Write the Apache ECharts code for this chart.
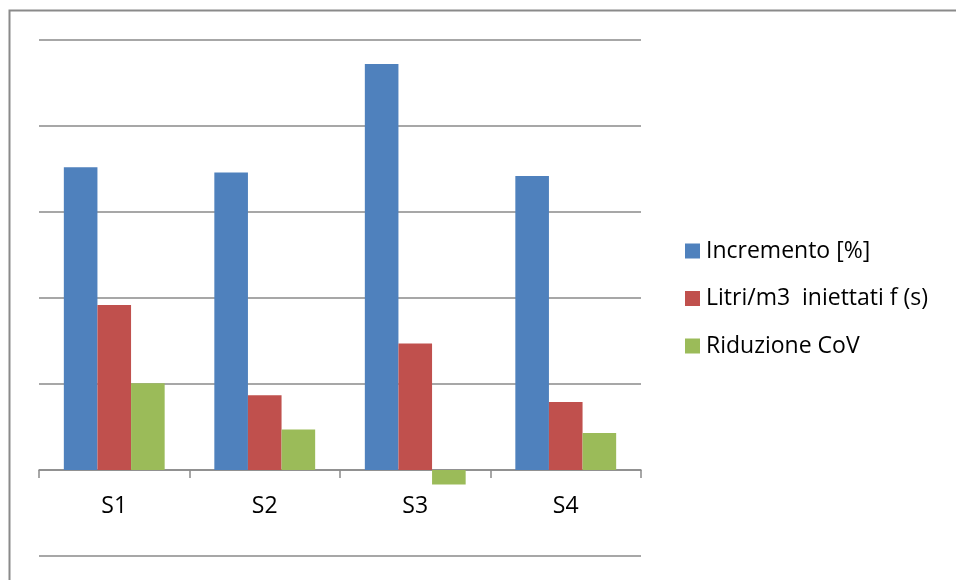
<!DOCTYPE html>
<html>
<head>
<meta charset="utf-8">
<script src="https://cdn.jsdelivr.net/npm/echarts@6/dist/echarts.min.js"></script>
<style>
  html, body { margin: 0; padding: 0; background: #fff; }
  #chart { width: 956px; height: 580px; }
</style>
</head>
<body>
<div id="chart"></div>
<script>
// Categories and series values
const categories = ['S1', 'S2', 'S3', 'S4'];
const incremento = [3.52, 3.46, 4.72, 3.42];
const litri = [1.92, 0.87, 1.47, 0.79];
const riduzione = [1.01, 0.47, -0.17, 0.43];
const seriesNames = ['Incremento [%]', 'Litri/m3  iniettati f (s)', 'Riduzione CoV'];
const colors = ['#4F81BD', '#C0504D', '#9BBB59'];

const font = '"Open Sans", sans-serif';
const chart = echarts.init(document.getElementById('chart'), null, { renderer: 'canvas' });

function bar(name, data, color) {
  return {
    name: name,
    type: 'bar',
    data: data,
    barGap: 0,
    barCategoryGap: '33%',
    itemStyle: { color: color },
    emphasis: { disabled: true }
  };
}

chart.setOption({
  animation: false,
  backgroundColor: '#ffffff',
  graphic: [{
    type: 'rect',
    shape: { x: 9.5, y: 10.5, width: 960, height: 580 },
    style: { fill: 'none', stroke: '#8a8a8a', lineWidth: 2 },
    silent: true
  }],
  grid: {
    left: 39, right: 315, top: 40, bottom: 24,
    containLabel: false,
    outerBoundsMode: 'none'
  },
  legend: {
    orient: 'vertical',
    left: 685,
    top: 237.5,
    padding: 0,
    itemWidth: 15,
    itemHeight: 15,
    itemGap: 20.5,
    icon: 'rect',
    textStyle: { fontFamily: font, fontSize: 23, color: '#000', lineHeight: 27, padding: [0, 0, 0, 1] },
    data: seriesNames
  },
  xAxis: {
    type: 'category',
    data: categories,
    axisLine: { onZero: true, lineStyle: { color: '#8a8a8a', width: 1.5 } },
    axisTick: { show: true, length: 8, lineStyle: { color: '#8a8a8a', width: 1.5 } },
    // category names sit just under the zero line
    axisLabel: { fontFamily: font, fontSize: 23, color: '#000', margin: -61 }
  },
  yAxis: {
    type: 'value',
    min: -1,
    max: 5,
    interval: 1,
    axisLine: { show: false },
    axisTick: { show: false },
    axisLabel: { show: false },
    splitLine: { lineStyle: { color: '#8a8a8a', width: 1.5 } }
  },
  series: [
    bar(seriesNames[0], incremento, colors[0]),
    bar(seriesNames[1], litri, colors[1]),
    bar(seriesNames[2], riduzione, colors[2])
  ]
});
</script>
</body>
</html>
